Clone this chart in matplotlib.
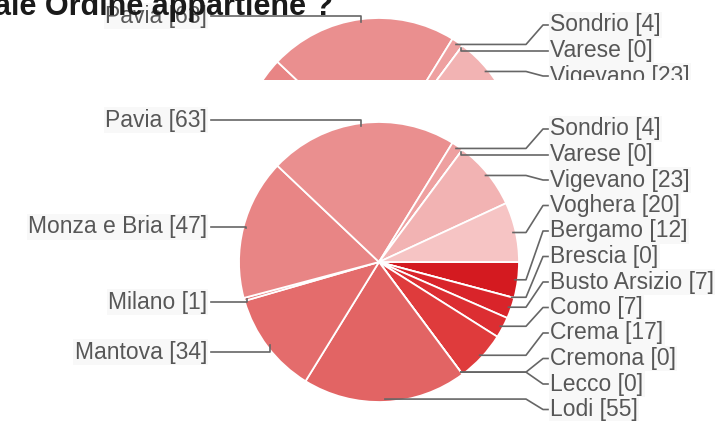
import matplotlib
matplotlib.use("Agg")
import matplotlib.pyplot as plt
import numpy as np

# dati: iscritti per Ordine
ordini = ["Bergamo", "Brescia", "Busto Arsizio", "Como", "Crema", "Cremona",
          "Lecco", "Lodi", "Mantova", "Milano", "Monza e Bria", "Pavia",
          "Sondrio", "Varese", "Vigevano", "Voghera"]
valori = [12, 0, 7, 7, 17, 0, 0, 55, 34, 1, 47, 63, 4, 0, 23, 20]
# lato dell'etichetta e riga (y in pixel)
lato = ["r", "r", "r", "r", "r", "r", "r", "r", "l", "l", "l", "l", "r", "r", "r", "r"]
label_y = [231, 256.5, 282, 307.5, 333, 358.5, 384, 409.5,
           352, 302, 227, 120, 129, 154.5, 180, 205.5]

colori = ["#d41a20", "#d61d23", "#d9242a", "#dc2e32", "#df3b3c", "#e04444",
          "#e14c4c", "#e26464", "#e46c6c", "#e67676", "#e88585", "#ea8f8f",
          "#eea0a0", "#f0a8a8", "#f2b3b3", "#f6c4c4"]

W, H = 722, 421
CX, CY, R = 379, 262, 140
plt.rcParams['font.family'] = ['Liberation Sans', 'DejaVu Sans']


def Y(py):
    return H - py


def disegna(ax, ylim):
    wedges, _ = ax.pie(valori, colors=colori, startangle=0, counterclock=False,
                       center=(CX, Y(CY)), radius=R, normalize=True,
                       wedgeprops=dict(edgecolor="white", linewidth=1.3))
    for w in wedges:
        w.set_clip_on(True)
        w.set_clip_path(ax.patch)
    ax.set_aspect("auto")
    ax.set_xlim(0, W)
    ax.set_ylim(*ylim)
    ax.set_axis_off()
    for nome, v, s, ly, w in zip(ordini, valori, lato, label_y, wedges):
        a = np.deg2rad((w.theta1 + w.theta2) / 2)
        ax_ = CX + R * 0.98 * np.cos(a)
        ay = CY - R * 0.98 * np.sin(a)
        if s == "r":
            if abs(ly - ay) <= 8 and ax_ < 470:
                xs = [ax_, ax_, 548]
                ys = [ay, ly, ly]
            else:
                xe = max(526, ax_ + 4)
                xs = [ax_, xe, 543, 548]
                ys = [ay, ay, ly, ly]
            tx, ha = 550, "left"
        else:
            xs = [ax_, ax_, 211]
            ys = [ay, ly, ly]
            tx, ha = 207, "right"
        ax.plot(xs, [Y(p) for p in ys], color="#666666", lw=1.2,
                solid_joinstyle="round")
        ax.text(tx, Y(ly), f"{nome} [{v}]", ha=ha, va="center", fontsize=16.5,
                color="#575757", clip_on=True,
                bbox=dict(facecolor="#f8f8f8", edgecolor="none", pad=1.0))


fig = plt.figure(figsize=(W / 100, H / 100), dpi=100)
fig.patch.set_facecolor("white")

ax_main = fig.add_axes([0, 0, 1, 1])
disegna(ax_main, (0, H))

# striscia in alto: copia del grafico spostata di 104 px
STRIP = 80
SHIFT = 104
ax_top = fig.add_axes([0, 1 - STRIP / H, 1, STRIP / H])
ax_top.set_facecolor("white")
disegna(ax_top, (Y(SHIFT + STRIP), Y(SHIFT)))
ax_top.patch.set_visible(True)

fig.text(333 / W, 1 - 15 / H, "ale Ordine appartiene ?", ha="right",
         va="baseline", fontsize=22, fontweight="bold", color="#1a1a1a",
         zorder=10)

fig.savefig("out.png", dpi=100)
